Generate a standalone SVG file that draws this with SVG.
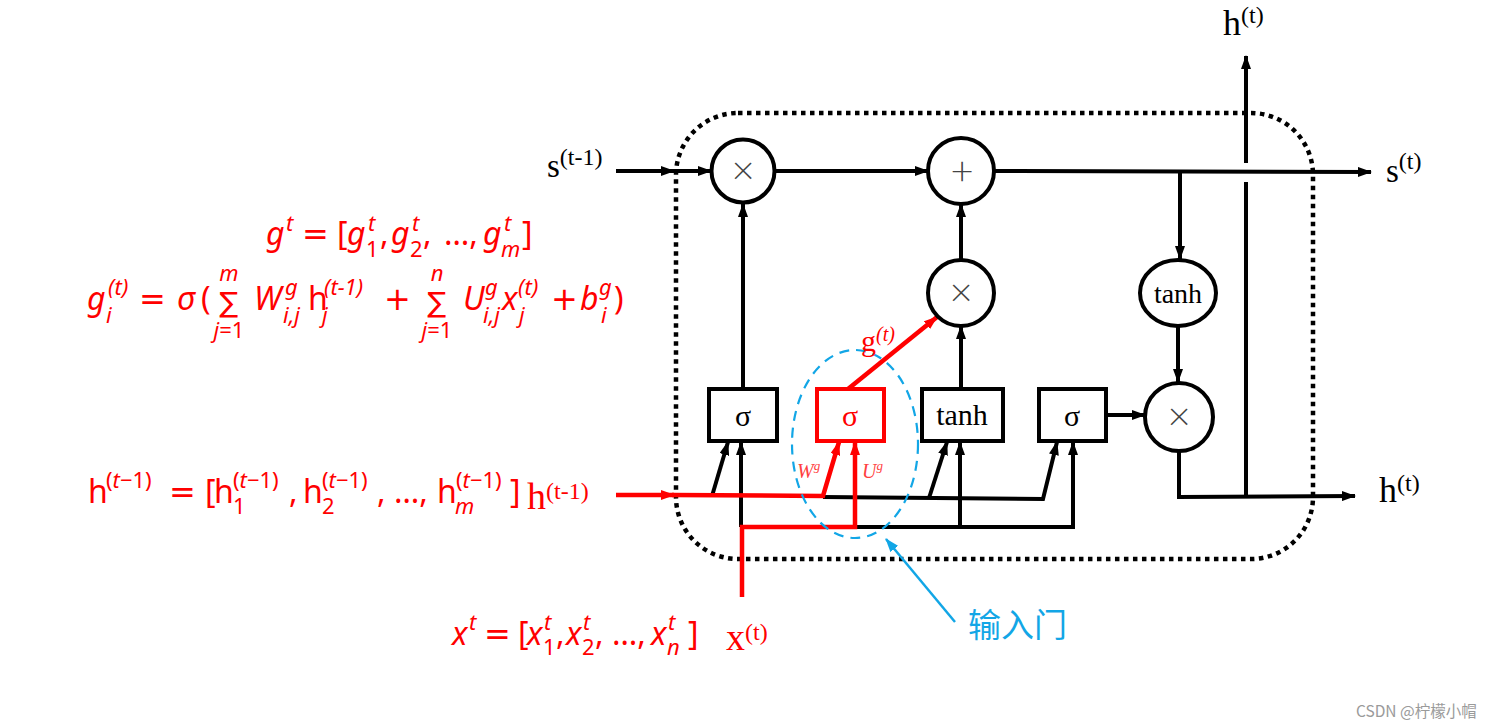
<svg xmlns="http://www.w3.org/2000/svg" width="1508" height="728" viewBox="0 0 1508 728">
<style>
.bk{fill:none;stroke:#000;stroke-width:4}
.rd{fill:none;stroke:#f00;stroke-width:4.5}
.node{fill:#fff;stroke:#000;stroke-width:4}
.ser{font-family:"Liberation Serif","Times New Roman",serif}
.op{font-family:"DejaVu Sans ExtraLight","Lato Light",Lato,"Liberation Sans",sans-serif;font-weight:300;font-size:40px;fill:#444;text-anchor:middle}
.f{font-family:"Noto Sans","DejaVu Sans",sans-serif;font-size:32px;fill:#f00}
.i{font-style:italic}
.s{font-size:22px}
.e{font-family:"DejaVu Sans",sans-serif;font-size:32px}
.sg{font-family:"DejaVu Sans",sans-serif;font-size:28px;text-anchor:middle}
</style>
<defs>
<marker id="ab" viewBox="0 0 14 10" refX="13" refY="5" markerWidth="14" markerHeight="10" markerUnits="userSpaceOnUse" orient="auto"><path d="M0,0 L14,5 L0,10 z" fill="#000"/></marker>
<marker id="ar" viewBox="0 0 14 10" refX="13" refY="5" markerWidth="14" markerHeight="10" markerUnits="userSpaceOnUse" orient="auto"><path d="M0,0 L14,5 L0,10 z" fill="#f00"/></marker>
<marker id="abl" viewBox="0 0 14 10" refX="13" refY="5" markerWidth="14" markerHeight="10" markerUnits="userSpaceOnUse" orient="auto"><path d="M0,0 L14,5 L0,10 z" fill="#12a6e6"/></marker>
</defs>
<rect width="1508" height="728" fill="#fff"/>

<g id="cell-boundary">
<rect x="676" y="113" width="637" height="446" rx="62" ry="62" fill="none" stroke="#000" stroke-width="4.5" stroke-dasharray="4.5 4.5"/>
</g>

<g id="connectors">
<path class="bk" d="M616,171 L674,171" marker-end="url(#ab)"/>
<path class="bk" d="M674,171 L711,171" marker-end="url(#ab)"/>
<path class="bk" d="M775,171 L928,171" marker-end="url(#ab)"/>
<path class="bk" d="M995,171 L1371,172" marker-end="url(#ab)"/>
<path class="bk" d="M1180,171 L1180,259" marker-end="url(#ab)"/>
<path class="bk" d="M1178,326 L1178,382" marker-end="url(#ab)"/>
<path class="bk" d="M1246,163 L1246,56" marker-end="url(#ab)"/>
<path class="bk" d="M1246,182 L1246,497"/>
<path class="bk" d="M1179,452 L1179,497 L1355,496" marker-end="url(#ab)"/>
<path class="bk" d="M743,389 L743,204" marker-end="url(#ab)"/>
<path class="bk" d="M961,389 L961,326" marker-end="url(#ab)"/>
<path class="bk" d="M961,260 L961,204" marker-end="url(#ab)"/>
<path class="bk" d="M1106,415 L1145,415" marker-end="url(#ab)"/>
<path class="bk" d="M823,497 L1043,499 L1057,442" marker-end="url(#ab)"/>
<path class="bk" d="M712,496 L728,442" marker-end="url(#ab)"/>
<path class="bk" d="M929,498 L947,442" marker-end="url(#ab)"/>
<path class="bk" d="M741,527 L741,442" marker-end="url(#ab)"/>
<path class="bk" d="M855,527 L1073,527 L1073,442" marker-end="url(#ab)"/>
<path class="bk" d="M960,527 L960,442" marker-end="url(#ab)"/>
<path class="rd" d="M616,495 L674,495" marker-end="url(#ar)"/>
<path class="rd" d="M672,495 L823,496 L839,442" marker-end="url(#ar)"/>
<path class="rd" d="M742,597 L742,527 L855,527 L855,442" marker-end="url(#ar)"/>
<path class="rd" d="M848,389 L937,317" marker-end="url(#ar)"/>
<path d="M955,622 L886,539" fill="none" stroke="#12a6e6" stroke-width="2.5" marker-end="url(#abl)"/>
</g>

<g id="mul-forget">
<circle class="node" cx="743" cy="171" r="31.5"/>
<text class="op" x="743" y="184">×</text>
</g>
<g id="add-state">
<circle class="node" cx="961" cy="171" r="33"/>
<text class="op" x="962" y="185">+</text>
</g>
<g id="mul-input">
<circle class="node" cx="961" cy="293" r="33"/>
<text class="op" x="961" y="306">×</text>
</g>
<g id="tanh-state">
<ellipse class="node" cx="1178" cy="293" rx="38" ry="33"/>
<text class="ser" x="1178" y="303" font-size="28" text-anchor="middle">tanh</text>
</g>
<g id="mul-output">
<circle class="node" cx="1179" cy="417" r="34"/>
<text class="op" x="1179" y="430">×</text>
</g>
<g id="sigma-forget">
<rect class="node" x="709" y="389" width="68" height="52"/>
<text class="ser" x="743" y="426" font-size="30" text-anchor="middle">σ</text>
</g>
<g id="sigma-input">
<rect x="817" y="389" width="67" height="52" fill="#fff" stroke="#f00" stroke-width="4"/>
<text class="ser" x="850" y="426" font-size="30" text-anchor="middle" fill="#f00">σ</text>
</g>
<g id="tanh-candidate">
<rect class="node" x="922" y="389" width="81" height="52"/>
<text class="ser" x="962" y="425" font-size="30" text-anchor="middle">tanh</text>
</g>
<g id="sigma-output">
<rect class="node" x="1039" y="389" width="67" height="52"/>
<text class="ser" x="1072" y="426" font-size="30" text-anchor="middle">σ</text>
</g>

<g id="input-gate-highlight">
<ellipse cx="855" cy="444" rx="63" ry="94" fill="none" stroke="#12a6e6" stroke-width="2.2" stroke-dasharray="10 7"/>
<text x="968" y="637" font-family="Noto Sans CJK SC,sans-serif" font-size="33" fill="#12a6e6">输入门</text>
</g>

<g id="labels" class="ser">
<text x="547" y="177" font-size="33">s<tspan font-size="24" dy="-12">(t-1)</tspan></text>
<text x="1386" y="182" font-size="33">s<tspan font-size="24" dy="-13">(t)</tspan></text>
<text x="1223" y="35" font-size="36">h<tspan font-size="24" dy="-12">(t)</tspan></text>
<text x="1379" y="502" font-size="36">h<tspan font-size="24" dy="-11">(t)</tspan></text>
<text x="527" y="509" font-size="38" fill="#f00">h<tspan font-size="24" dy="-10">(t-1)</tspan></text>
<text x="726" y="650" font-size="38" fill="#f00">x<tspan font-size="24" dy="-10">(t)</tspan></text>
<text x="861" y="351" font-size="30" fill="#f00">g<tspan font-size="20" font-style="italic" dy="-10">(t)</tspan></text>
<text x="797" y="478" font-size="20" font-style="italic" fill="#ff4040">W<tspan font-size="13" dy="-8">g</tspan></text>
<text x="862" y="478" font-size="20" font-style="italic" fill="#ff4040">U<tspan font-size="13" dy="-8">g</tspan></text>
</g>

<g id="formula-g" class="f">
<text><tspan class="i" x="266" y="245">g</tspan><tspan class="i s" x="286" y="231">t</tspan><tspan class="e" x="302" y="245">=</tspan><tspan x="337" y="245">[</tspan><tspan class="i" x="347" y="245">g</tspan><tspan class="i s" x="368" y="231">t</tspan><tspan class="s" x="366" y="257">1</tspan><tspan x="380" y="245">,</tspan><tspan class="i" x="391" y="245">g</tspan><tspan class="i s" x="412" y="231">t</tspan><tspan class="s" x="410" y="257">2</tspan><tspan x="423" y="245">,</tspan><tspan x="444" y="245">…,</tspan><tspan class="i" x="483" y="245">g</tspan><tspan class="i s" x="504" y="231">t</tspan><tspan class="i s" x="501" y="257">m</tspan><tspan x="522" y="245">]</tspan></text>
</g>

<g id="formula-gi" class="f">
<text><tspan class="i" x="87" y="310">g</tspan><tspan class="i s" x="108" y="295">(t)</tspan><tspan class="i s" x="106" y="323">i</tspan><tspan class="e" x="139" y="310">=</tspan><tspan class="i" x="177" y="310">σ</tspan><tspan x="201" y="310">(</tspan><tspan class="i" x="254" y="310">W</tspan><tspan class="i s" x="285" y="295">g</tspan><tspan class="i s" x="283" y="323">i,j</tspan><tspan x="308" y="310">h</tspan><tspan class="i s" x="324" y="295">(t−1)</tspan><tspan class="i s" x="322" y="323">j</tspan><tspan class="e" x="384" y="310">+</tspan><tspan class="i" x="463" y="310">U</tspan><tspan class="i s" x="485" y="295">g</tspan><tspan class="i s" x="483" y="323">i,j</tspan><tspan class="i" x="502" y="310">x</tspan><tspan class="i s" x="518" y="295">(t)</tspan><tspan class="i s" x="519" y="323">j</tspan><tspan class="e" x="551" y="310">+</tspan><tspan class="i" x="580" y="310">b</tspan><tspan class="i s" x="599" y="295">g</tspan><tspan class="i s" x="601" y="323">i</tspan><tspan x="614" y="310">)</tspan></text>
<text class="sg" x="229" y="312">∑</text>
<text class="i s" x="229" y="281" text-anchor="middle">m</text>
<text class="s" x="229" y="338" text-anchor="middle"><tspan class="i">j</tspan>=1</text>
<text class="sg" x="437" y="312">∑</text>
<text class="i s" x="437" y="281" text-anchor="middle">n</text>
<text class="s" x="437" y="338" text-anchor="middle"><tspan class="i">j</tspan>=1</text>
</g>

<g id="formula-h" class="f">
<text><tspan x="88" y="503">h</tspan><tspan class="s" x="106" y="488">(<tspan class="i">t</tspan>−1)</tspan><tspan class="e" x="169" y="503">=</tspan><tspan x="205" y="503">[</tspan><tspan x="214" y="503">h</tspan><tspan class="s" x="233" y="488">(<tspan class="i">t</tspan>−1)</tspan><tspan class="s" x="233" y="514">1</tspan><tspan x="289" y="503">,</tspan><tspan x="303" y="503">h</tspan><tspan class="s" x="322" y="488">(<tspan class="i">t</tspan>−1)</tspan><tspan class="s" x="322" y="514">2</tspan><tspan x="377" y="503">,</tspan><tspan x="394" y="503">…,</tspan><tspan x="437" y="503">h</tspan><tspan class="s" x="456" y="488">(<tspan class="i">t</tspan>−1)</tspan><tspan class="i s" x="455" y="514">m</tspan><tspan x="510" y="503">]</tspan></text>
</g>

<g id="formula-x" class="f">
<text><tspan class="i" x="452" y="645">x</tspan><tspan class="i s" x="469" y="630">t</tspan><tspan class="e" x="484" y="645">=</tspan><tspan x="518" y="645">[</tspan><tspan class="i" x="527" y="645">x</tspan><tspan class="i s" x="544" y="630">t</tspan><tspan class="s" x="543" y="655">1</tspan><tspan x="556" y="645">,</tspan><tspan class="i" x="566" y="645">x</tspan><tspan class="i s" x="583" y="630">t</tspan><tspan class="s" x="582" y="655">2</tspan><tspan x="595" y="645">,</tspan><tspan x="612" y="645">…,</tspan><tspan class="i" x="651" y="645">x</tspan><tspan class="i s" x="668" y="630">t</tspan><tspan class="i s" x="667" y="655">n</tspan><tspan x="688" y="645">]</tspan></text>
</g>

<g id="watermark">
<text x="1356" y="717" font-family="Noto Sans CJK SC,sans-serif" font-size="15.5" fill="#9a9a9a">CSDN @柠檬小帽</text>
</g>
</svg>
